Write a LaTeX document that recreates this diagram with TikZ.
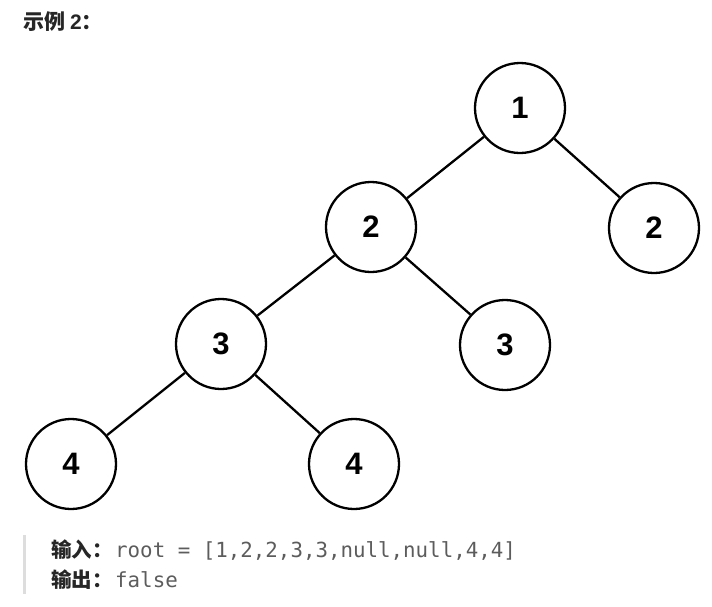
\documentclass[tikz,border=0pt]{standalone}
\usepackage{fontspec}
\setmainfont{Liberation Sans}
\newfontfamily\cjk{Noto Sans CJK SC}
\newfontfamily\codefont{DejaVu Sans Mono}
\definecolor{titlec}{HTML}{262626}
\definecolor{codec}{HTML}{5C5C5C}
\definecolor{barc}{HTML}{DDDDDD}
\tikzset{
  treenode/.style={circle, draw=black, line width=2.3pt, minimum size=90pt, inner sep=0pt,
    font=\fontsize{31}{31}\selectfont\bfseries},
  edge/.style={line width=2.3pt, draw=black},
  label/.style={anchor=base west, inner sep=0pt}
}
\begin{document}
\begin{tikzpicture}[x=1pt,y=-1pt]
\useasboundingbox (0,0) rectangle (712,606);
\node[label, text=titlec, font=\fontsize{21}{21}\selectfont] (title) at (23,29) {\cjk\bfseries 示例 \rmfamily\bfseries 2\cjk\bfseries ：};
\node[treenode] (n1) at (520,108) {1};
\node[treenode] (n2a) at (371,227) {2};
\node[treenode] (n2b) at (654,228) {2};
\node[treenode] (n3a) at (221,344) {3};
\node[treenode] (n3b) at (505,345) {3};
\node[treenode] (n4a) at (71,464) {4};
\node[treenode] (n4b) at (354,464) {4};
\draw[edge] (n1) -- (n2a);
\draw[edge] (n1) -- (n2b);
\draw[edge] (n2a) -- (n3a);
\draw[edge] (n2a) -- (n3b);
\draw[edge] (n3a) -- (n4a);
\draw[edge] (n3a) -- (n4b);
\coordinate (bartop) at (24.5,535);
\coordinate (barbot) at (24.5,594);
\draw[barc, line width=3pt] (bartop) -- (barbot);
\node[label, text=titlec, font=\fontsize{20.5}{20.5}\selectfont\cjk\bfseries] (inl) at (51,557) {输入：};
\node[label, text=codec, font=\fontsize{20.8}{20.8}\selectfont\codefont] (inv) at (115,557) {root = [1,2,2,3,3,null,null,4,4]};
\node[label, text=titlec, font=\fontsize{20.5}{20.5}\selectfont\cjk\bfseries] (outl) at (51,587) {输出：};
\node[label, text=codec, font=\fontsize{20.8}{20.8}\selectfont\codefont] (outv) at (115,587) {false};
\end{tikzpicture}
\end{document}
